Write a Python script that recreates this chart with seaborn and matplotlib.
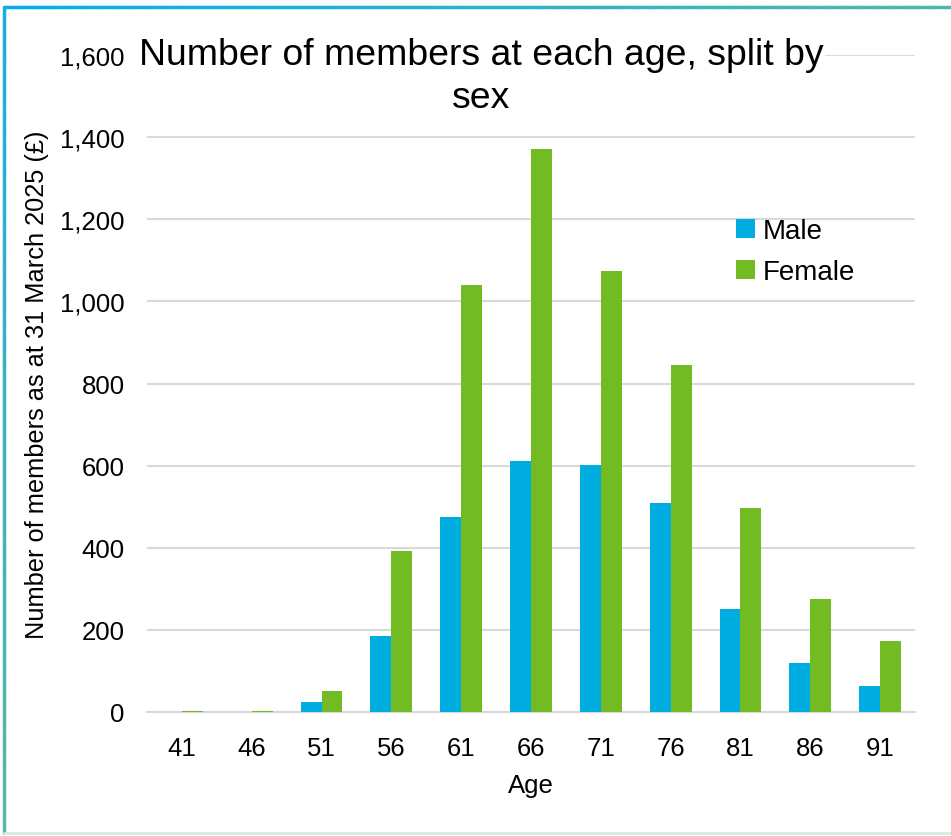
import numpy as np
import pandas as pd
import seaborn as sns
import matplotlib as mpl
from matplotlib import pyplot as plt
from matplotlib.lines import Line2D

ages = ['41', '46', '51', '56', '61', '66', '71', '76', '81', '86', '91']
male = [0, 0, 24, 185, 474, 611, 601, 508, 251, 119, 63]
female = [3, 3, 51, 392, 1040, 1371, 1075, 845, 496, 275, 173]
sexes = ['Male', 'Female']
colors = {'Male': '#00ADE0', 'Female': '#72BB22'}

df = pd.DataFrame({
    'Age': ages * 2,
    'Members': male + female,
    'Sex': ['Male'] * len(ages) + ['Female'] * len(ages),
})

sns.set_style('white')
plt.rcParams['font.family'] = ['Liberation Sans', 'DejaVu Sans']
plt.rcParams['text.color'] = 'black'
plt.rcParams['axes.labelcolor'] = 'black'
plt.rcParams['xtick.color'] = 'black'
plt.rcParams['ytick.color'] = 'black'

fig = plt.figure(figsize=(9.51, 8.37), dpi=100)
ax = fig.add_axes([147 / 951, 1 - 713 / 837, 768 / 951, 657 / 837])

sns.barplot(data=df, x='Age', y='Members', hue='Sex', hue_order=sexes,
            palette=colors, saturation=1, width=0.6, ax=ax, zorder=3,
            edgecolor='none', linewidth=0)

ax.set_ylim(0, 1600)
ax.set_yticks(range(0, 1601, 200))
ax.set_yticklabels([f'{v:,}' for v in range(0, 1601, 200)])
ax.yaxis.grid(True, color='#D9D9D9', linewidth=1.5, zorder=0)
ax.set_axisbelow(True)
for s in ['top', 'right', 'left']:
    ax.spines[s].set_visible(False)
ax.spines['bottom'].set_color('#D9D9D9')
ax.spines['bottom'].set_linewidth(1.5)
ax.tick_params(axis='y', length=0, labelsize=18.5, pad=16)
ax.tick_params(axis='x', length=0, labelsize=18.5, pad=17)

ax.set_xlabel('Age', fontsize=18.5, labelpad=10)
ax.set_ylabel('Number of members as at 31 March 2025 (£)', fontsize=18.3, labelpad=8)

ax.legend(loc='upper left', bbox_to_anchor=(736 / 951, 1 - 219 / 837),
          bbox_transform=fig.transFigure, frameon=False, fontsize=20,
          handlelength=0.7, handleheight=0.7, handletextpad=0.25,
          labelspacing=0.55, borderpad=0, borderaxespad=0)

fig.text(481 / 951, 1 - 77 / 837, 'Number of members at each age, split by\nsex',
         ha='center', va='center', fontsize=26.9, linespacing=1.3,
         bbox=dict(facecolor='white', edgecolor='none', pad=1), zorder=5)

# frame around the figure
n = 60
xs = np.linspace(4 / 951, 1, n + 1)
c0 = np.array(mpl.colors.to_rgb('#00AEEF'))
c1 = np.array(mpl.colors.to_rgb('#52B8A8'))
for i in range(n):
    c = c0 + (c1 - c0) * i / n
    fig.add_artist(Line2D([xs[i], xs[i + 1]], [1 - 8 / 837] * 2, color=c,
                          linewidth=2.5, transform=fig.transFigure))
ys = np.linspace(1 - 8 / 837, 3 / 837, n + 1)
c2 = np.array(mpl.colors.to_rgb('#1AAEE0'))
c3 = np.array(mpl.colors.to_rgb('#5CB6A4'))
for i in range(n):
    c = c2 + (c3 - c2) * i / n
    fig.add_artist(Line2D([4 / 951] * 2, [ys[i], ys[i + 1]], color=c,
                          linewidth=2.5, transform=fig.transFigure))
fig.add_artist(Line2D([4 / 951, 1], [3 / 837] * 2, color='#D3EEE0',
                      linewidth=2, transform=fig.transFigure))

fig.savefig('out.png', dpi=100)
